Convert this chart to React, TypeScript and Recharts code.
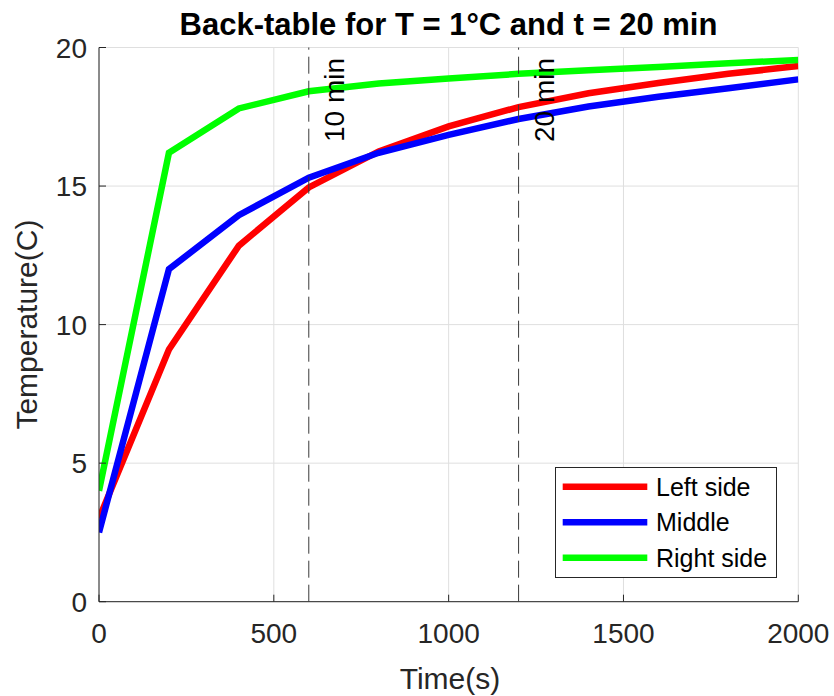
import React from 'react';
import { LineChart, Line, XAxis, YAxis, CartesianGrid, ReferenceLine, Legend } from 'recharts';

const timeS = [0, 200, 400, 600, 800, 1000, 1200, 1400, 1600, 1800, 2000];
const leftSide = [3.0, 9.1, 12.85, 14.95, 16.25, 17.15, 17.85, 18.35, 18.72, 19.05, 19.33];
const middle = [2.5, 12.0, 13.95, 15.3, 16.2, 16.85, 17.42, 17.87, 18.22, 18.53, 18.85];
const rightSide = [4.0, 16.2, 17.8, 18.42, 18.7, 18.88, 19.05, 19.18, 19.3, 19.43, 19.55];
const xTicks = [0, 500, 1000, 1500, 2000];
const yTicks = [0, 5, 10, 15, 20];
const refLines = [
  { x: 600, label: '10 min' },
  { x: 1200, label: '20 min' },
];

const data = timeS.map((t, i) => ({ t, left: leftSide[i], middle: middle[i], right: rightSide[i] }));

const FONT = '"Liberation Sans", Arial, sans-serif';
const AXIS = '#262626';
const TICK = 7;

const BottomTick = (p: any) => (
  <g>
    <line x1={p.x} y1={p.y} x2={p.x} y2={p.y - TICK} stroke={AXIS} strokeWidth={1} />
    <text x={p.x} y={p.y + 41.3} textAnchor="middle" fontFamily={FONT} fontSize={28} fill={AXIS}>
      {p.payload.value}
    </text>
  </g>
);
const TopTick = (p: any) => (
  <line x1={p.x} y1={p.y} x2={p.x} y2={p.y + TICK} stroke={AXIS} strokeWidth={1} />
);
const LeftTick = (p: any) => (
  <g>
    <line x1={p.x} y1={p.y} x2={p.x + TICK} y2={p.y} stroke={AXIS} strokeWidth={1} />
    <text x={p.x - 12} y={p.y + 10.3} textAnchor="end" fontFamily={FONT} fontSize={28} fill={AXIS}>
      {p.payload.value}
    </text>
  </g>
);
const RightTick = (p: any) => (
  <line x1={p.x} y1={p.y} x2={p.x - TICK} y2={p.y} stroke={AXIS} strokeWidth={1} />
);

const RefLabel = (p: any) => {
  const vb = p.viewBox || { x: 0, y: 0 };
  const x = vb.x + 35;
  const y = vb.y + 94.5;
  return (
    <text x={x} y={y} transform={`rotate(-90, ${x}, ${y})`} textAnchor="start" fontFamily={FONT} fontSize={28} fill="#000">
      {p.text}
    </text>
  );
};

const LegendBox = (props: any) => {
  const payload = props.payload || [];
  const rows = [19.7, 55.3, 90.7];
  return (
    <svg width={222} height={111} style={{ display: 'block' }}>
      <rect x={0.5} y={0.5} width={221} height={110} fill="#fff" stroke={AXIS} strokeWidth={1} />
      {payload.map((e: any, i: number) => (
        <g key={e.value}>
          <line x1={7.7} y1={rows[i]} x2={92.3} y2={rows[i]} stroke={e.color} strokeWidth={6.5} />
          <text x={101} y={rows[i] + 9} fontFamily={FONT} fontSize={25} fill="#000">
            {e.value}
          </text>
        </g>
      ))}
    </svg>
  );
};

export default function App() {
  return (
    <div style={{ position: 'absolute', left: 0, top: 0, width: 834, height: 696, background: '#fff' }}>
      <LineChart
        width={834}
        height={696}
        data={data}
        margin={{ top: 47.5, right: 35.7, bottom: 34.3, left: 39 }}
      >
        <CartesianGrid stroke="#dfdfdf" strokeWidth={1} />
        <XAxis
          dataKey="t"
          type="number"
          domain={[0, 2000]}
          ticks={xTicks}
          interval={0}
          height={60}
          tickSize={0}
          tickMargin={0}
          tickLine={false}
          axisLine={{ stroke: AXIS, strokeWidth: 1 }}
          tick={(p: any) => <BottomTick {...p} />}
          allowDataOverflow
        />
        <XAxis
          xAxisId="top"
          orientation="top"
          dataKey="t"
          type="number"
          domain={[0, 2000]}
          ticks={xTicks}
          interval={0}
          height={0}
          tickSize={0}
          tickMargin={0}
          tickLine={false}
          axisLine={{ stroke: AXIS, strokeWidth: 1 }}
          tick={(p: any) => <TopTick {...p} />}
          allowDataOverflow
        />
        <YAxis
          type="number"
          domain={[0, 20]}
          ticks={yTicks}
          interval={0}
          width={60}
          tickSize={0}
          tickMargin={0}
          tickLine={false}
          axisLine={{ stroke: AXIS, strokeWidth: 1 }}
          tick={(p: any) => <LeftTick {...p} />}
          allowDataOverflow
        />
        <YAxis
          yAxisId="right"
          orientation="right"
          type="number"
          domain={[0, 20]}
          ticks={yTicks}
          interval={0}
          width={0}
          tickSize={0}
          tickMargin={0}
          tickLine={false}
          axisLine={{ stroke: AXIS, strokeWidth: 1 }}
          tick={(p: any) => <RightTick {...p} />}
          allowDataOverflow
        />
        <Line name="Left side" dataKey="left" type="linear" stroke="#ff0000" strokeWidth={6.5} dot={false} activeDot={false} isAnimationActive={false} />
        <Line name="Middle" dataKey="middle" type="linear" stroke="#0000ff" strokeWidth={6.5} dot={false} activeDot={false} isAnimationActive={false} />
        <Line name="Right side" dataKey="right" type="linear" stroke="#00ff00" strokeWidth={6.5} dot={false} activeDot={false} isAnimationActive={false} />
        {refLines.map((r) => (
          <ReferenceLine
            key={r.label}
            x={r.x}
            stroke="#3a3a3a"
            strokeWidth={1}
            strokeDasharray="17 7"
            zIndex={1000}
            label={<RefLabel text={r.label} />}
          />
        ))}
        <Legend
          layout="vertical"
          align="center"
          verticalAlign="middle"
          wrapperStyle={{ position: 'absolute', left: 555, top: 467, width: 222, height: 111 }}
          content={(p: any) => <LegendBox {...p} />}
        />
      </LineChart>
      <svg width={834} height={696} style={{ position: 'absolute', left: 0, top: 0, pointerEvents: 'none' }}>
        <text x={448.5} y={35} textAnchor="middle" fontFamily={FONT} fontSize={31} fontWeight="bold" fill="#000">
          Back-table for T = 1°C and t = 20 min
        </text>
        <text x={450} y={689} textAnchor="middle" fontFamily={FONT} fontSize={30} fill={AXIS}>
          Time(s)
        </text>
        <text x={36.6} y={324.6} transform="rotate(-90, 36.6, 324.6)" textAnchor="middle" fontFamily={FONT} fontSize={30} fill={AXIS}>
          Temperature(C)
        </text>
      </svg>
    </div>
  );
}
